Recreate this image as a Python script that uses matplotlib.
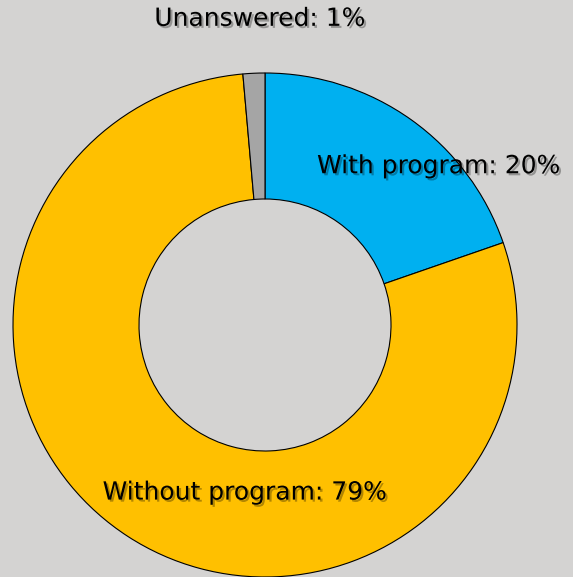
import matplotlib.pyplot as plt
import matplotlib.patheffects as pe

labels = ['With program', 'Without program', 'Unanswered']
shares = [19.7, 78.9, 1.4]
colors = ['#00B0F0', '#FFC000', '#A5A5A5']
label_pos = [(0.69, 0.63), (-0.08, -0.665), (-0.02, 1.215)]

bg = '#D4D3D2'
fig = plt.figure(figsize=(5.73, 5.77), dpi=100, facecolor=bg)
ax = fig.add_axes([13 / 573, 0.0, 504 / 573, 504 / 577])
ax.set_facecolor(bg)

ax.pie(shares, colors=colors, startangle=90, counterclock=False, radius=1,
       wedgeprops=dict(width=0.5, edgecolor='black', linewidth=0.8))

# soft drop shadow under the labels
shadow = [pe.SimplePatchShadow(offset=(1.5, -1.5), shadow_rgbFace='#000000', alpha=0.3),
          pe.Normal()]
for name, val, (x, y) in zip(labels, shares, label_pos):
    ax.text(x, y, f'{name}: {round(val)}%', ha='center', va='center', fontsize=18,
            color='black', path_effects=shadow)

ax.set_xlim(-1, 1)
ax.set_ylim(-1, 1)
ax.set_aspect('equal')
ax.axis('off')

fig.savefig('out.png', dpi=100, facecolor=bg)
